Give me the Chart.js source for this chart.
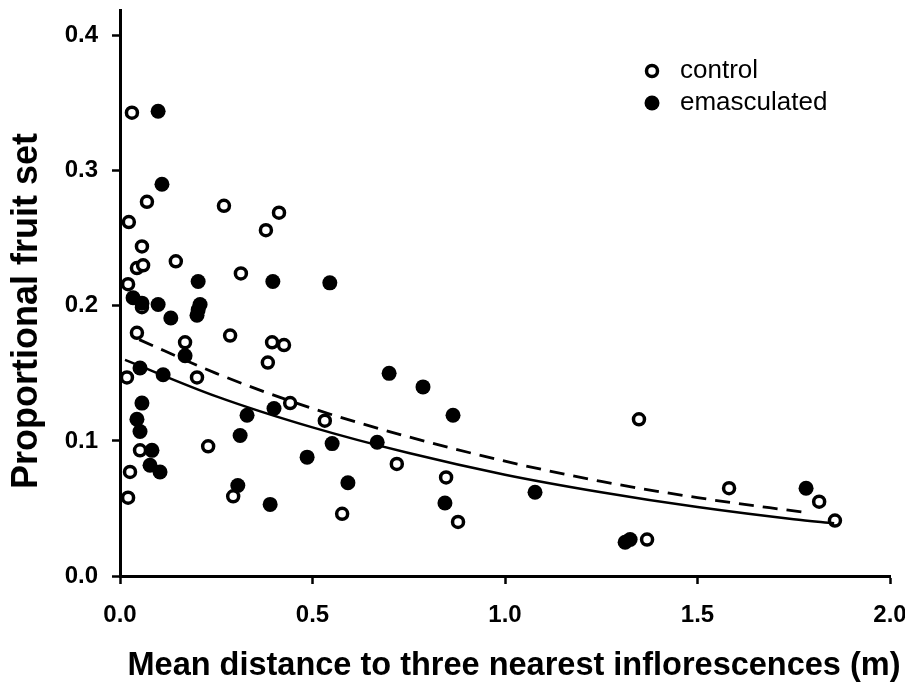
<!DOCTYPE html>
<html><head><meta charset="utf-8">
<script src="https://cdn.jsdelivr.net/npm/chart.js@4.4.1/dist/chart.umd.min.js"></script>
<style>html,body{margin:0;padding:0;background:#fff}#wrap{width:905px;height:683px;position:relative}</style>
</head><body><div id="wrap"><canvas id="c" width="905" height="683"></canvas></div>
<script>
// ---- data ----
const xTickValues = [0, 0.5, 1.0, 1.5, 2.0];
const yTickValues = [0, 0.1, 0.2, 0.3, 0.4];
const legendLabels = ['control', 'emasculated'];
const xTitle = 'Mean distance to three nearest inflorescences (m)';
const yTitle = 'Proportional fruit set';

const controlX = [0.031,0.023,0.070,0.057,0.044,0.060,0.145,0.270,0.379,0.413,0.314,0.021,0.057,0.044,0.169,0.286,0.395,0.426,0.384,0.018,0.200,0.442,0.229,0.052,0.026,0.021,0.294,0.532,0.719,0.577,0.847,0.878,1.348,1.369,1.582,1.816,1.857];
const controlY = [0.343,0.262,0.277,0.244,0.228,0.230,0.233,0.274,0.256,0.269,0.224,0.216,0.199,0.180,0.173,0.178,0.173,0.171,0.158,0.147,0.147,0.128,0.096,0.093,0.077,0.058,0.059,0.115,0.083,0.046,0.073,0.040,0.116,0.027,0.065,0.055,0.041];

const emascX = [0.099,0.109,0.203,0.397,0.545,0.034,0.057,0.099,0.132,0.200,0.208,0.203,0.169,0.052,0.112,0.057,0.044,0.052,0.083,0.078,0.104,0.400,0.330,0.312,0.306,0.390,0.699,0.787,0.865,0.551,0.486,0.668,0.592,0.844,1.078,1.312,1.325,1.782];
const emascY = [0.344,0.290,0.218,0.218,0.217,0.206,0.202,0.201,0.191,0.193,0.201,0.197,0.163,0.154,0.149,0.128,0.116,0.107,0.093,0.082,0.077,0.124,0.119,0.104,0.067,0.053,0.150,0.140,0.119,0.098,0.088,0.099,0.069,0.054,0.062,0.025,0.027,0.065];

// fitted curves
const solidFitX = [0.013,0.25,0.5,0.75,1.0,1.25,1.5,1.75,1.855];
const solidFitY = [0.160,0.133,0.110,0.091,0.075,0.062,0.051,0.042,0.039];
const dashFitX = [0.05,0.25,0.5,0.75,1.0,1.25,1.5,1.78];
const dashFitY = [0.175,0.150,0.124,0.103,0.085,0.070,0.058,0.047];

const pts = (xs, ys) => xs.map((x, i) => ({x: x, y: ys[i]}));

const OPEN_R = 5.5, OPEN_BW = 3.5, FILLED_R = 7.5;
const FAMILY = '"Liberation Sans", Arial, sans-serif';

const legendPlugin = {
  id: 'customLegend',
  afterDraw(chart) {
    const ctx = chart.ctx;
    const items = [
      {label: legendLabels[0], open: true, y: 71},
      {label: legendLabels[1], open: false, y: 103}
    ];
    ctx.save();
    items.forEach(it => {
      ctx.beginPath();
      if (it.open) {
        ctx.arc(652, it.y, OPEN_R, 0, Math.PI * 2);
        ctx.fillStyle = '#fff'; ctx.fill();
        ctx.lineWidth = OPEN_BW; ctx.strokeStyle = '#000'; ctx.stroke();
      } else {
        ctx.arc(652, it.y, FILLED_R, 0, Math.PI * 2);
        ctx.fillStyle = '#000'; ctx.fill();
      }
      ctx.fillStyle = '#000';
      ctx.font = '26px ' + FAMILY;
      ctx.textBaseline = 'middle';
      ctx.textAlign = 'left';
      ctx.fillText(it.label, 680, it.y);
    });
    // axis titles
    ctx.fillStyle = '#000';
    ctx.textAlign = 'center';
    ctx.textBaseline = 'middle';
    ctx.font = 'bold 32.5px ' + FAMILY;
    ctx.fillText(xTitle, 514, 666);
    ctx.translate(27, 311);
    ctx.rotate(-Math.PI / 2);
    ctx.font = 'bold 36px ' + FAMILY;
    ctx.fillText(yTitle, 0, 0);
    ctx.restore();
  }
};

const tickFont = {family: FAMILY, size: 24, weight: 'bold'};

new Chart(document.getElementById('c'), {
  type: 'scatter',
  data: {
    datasets: [
      {label: legendLabels[0], data: pts(controlX, controlY), pointRadius: OPEN_R, pointBorderWidth: OPEN_BW,
       pointBackgroundColor: '#fff', pointBorderColor: '#000', order: 3},
      {label: legendLabels[1], data: pts(emascX, emascY), pointRadius: FILLED_R, pointBorderWidth: 0,
       pointBackgroundColor: '#000', pointBorderColor: '#000', order: 2},
      {type: 'line', label: 'fit emasculated', data: pts(solidFitX, solidFitY), borderColor: '#000', borderWidth: 2.5,
       pointRadius: 0, fill: false, cubicInterpolationMode: 'monotone', order: 1},
      {type: 'line', label: 'fit control', data: pts(dashFitX, dashFitY), borderColor: '#000', borderWidth: 2.8,
       borderDash: [15, 9], pointRadius: 0, fill: false, cubicInterpolationMode: 'monotone', order: 1}
    ]
  },
  options: {
    responsive: false,
    animation: false,
    devicePixelRatio: 1,
    layout: {padding: {left: 0, right: 15, top: 10, bottom: 0}},
    plugins: {legend: {display: false}, tooltip: {enabled: false}},
    scales: {
      x: {
        type: 'linear', min: 0, max: 2.0,
        afterBuildTicks(s) { s.ticks = xTickValues.map(v => ({value: v})); },
        afterFit(s) { s.height = 107; s.paddingLeft = 0; s.paddingRight = 0; },
        ticks: {font: tickFont, color: '#000', padding: 17, maxRotation: 0,
                callback: v => Number(v).toFixed(1)},
        grid: {display: true, drawOnChartArea: false, drawTicks: true, tickLength: 8, tickWidth: 2.5, tickColor: '#000'},
        border: {display: true, color: '#000', width: 3},
        title: {display: false}
      },
      y: {
        type: 'linear', min: 0, max: 0.419,
        afterBuildTicks(s) { s.ticks = yTickValues.map(v => ({value: v})); },
        afterFit(s) { s.width = 120; s.paddingTop = 0; s.paddingBottom = 0; },
        ticks: {font: tickFont, color: '#000', padding: 14, callback: v => Number(v).toFixed(1)},
        grid: {display: true, drawOnChartArea: false, drawTicks: true, tickLength: 8, tickWidth: 2.5, tickColor: '#000'},
        border: {display: true, color: '#000', width: 3},
        title: {display: false}
      }
    }
  },
  plugins: [legendPlugin]
});
</script>
</body></html>
